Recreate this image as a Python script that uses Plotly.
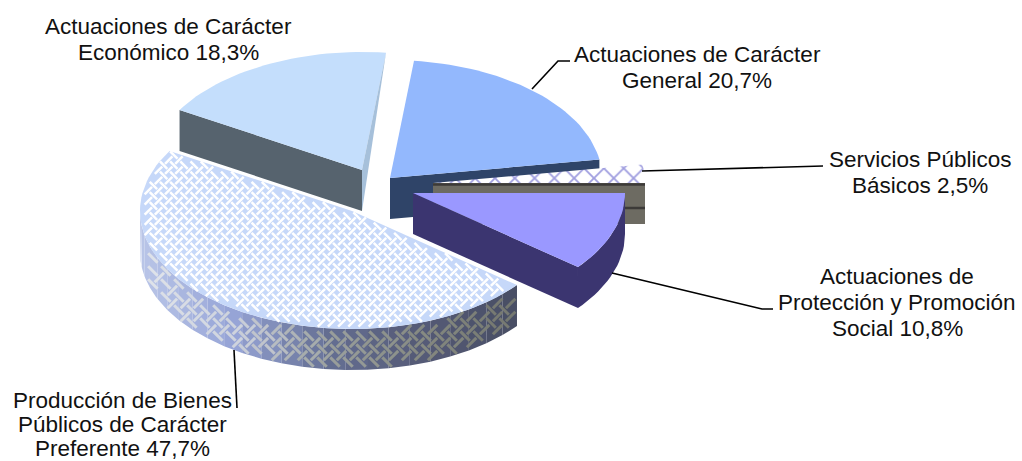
import math
import plotly.graph_objects as go

categories = ["Actuaciones de Carácter General", "Servicios Públicos Básicos",
              "Actuaciones de Protección y Promoción Social",
              "Producción de Bienes Públicos de Carácter Preferente",
              "Actuaciones de Carácter Económico"]
shares = [20.7, 2.5, 10.8, 47.7, 18.3]
label_lines = [["Actuaciones de Carácter", "General 20,7%"],
               ["Servicios Públicos", "Básicos 2,5%"],
               ["Actuaciones de", "Protección y Promoción", "Social 10,8%"],
               ["Producción de Bienes", "Públicos de Carácter", "Preferente 47,7%"],
               ["Actuaciones de Carácter", "Económico 18,3%"]]

A, B, H = 212, 118, 41
START = 83.5
apex = {0: (390, 178), 1: (433, 183), 2: (413, 193), 3: (352, 211), 4: (362, 170)}

spans = {}
a = START
for i, s in enumerate(shares):
    b = a - s * 3.6
    spans[i] = (a, b)
    a = b


def arc(i, a0, a1, dy=0, n=None):
    cx, cy = apex[i]
    n = n or max(2, int(abs(a1 - a0) / 2) + 2)
    pts = []
    for k in range(n):
        t = math.radians(a0 + (a1 - a0) * k / (n - 1))
        pts.append((cx + A * math.cos(t), cy - B * math.sin(t) + dy))
    return pts


fig = go.Figure()


def poly(pts, color, pattern=None):
    x = [p[0] for p in pts] + [pts[0][0]]
    y = [p[1] for p in pts] + [pts[0][1]]
    kw = dict(fillcolor=color)
    if pattern:
        kw["fillpattern"] = pattern
    fig.add_trace(go.Scatter(x=x, y=y, mode="lines", fill="toself", line=dict(width=0),
                             hoverinfo="skip", showlegend=False, **kw))


def line(pts, color="#000000", width=1.6):
    fig.add_trace(go.Scatter(x=[p[0] for p in pts], y=[p[1] for p in pts], mode="lines",
                             line=dict(color=color, width=width), hoverinfo="skip", showlegend=False))


def segments(segs, color, width):
    xs, ys = [], []
    for p, q in segs:
        xs += [p[0], q[0], None]
        ys += [p[1], q[1], None]
    fig.add_trace(go.Scatter(x=xs, y=ys, mode="lines", line=dict(color=color, width=width),
                             hoverinfo="skip", showlegend=False))


def weave(x0, x1, y0, y1, w):
    """Interlocking strokes of a woven texture laid at +/-45 degrees over a box."""
    s = w / math.sqrt(2)
    cx, cy = (x0 + x1) / 2, (y0 + y1) / 2
    R = int(max(x1 - x0, y1 - y0) / w) + 6

    def pt(u, v):
        return (cx + (u + v) * s, cy + (v - u) * s)
    for m in range(-R, R):
        for k in range(-R, R):
            u, v = 2 * m, 2 * k
            if (m + k) % 2 == 0:
                yield pt(u - 1.45, v), pt(u + 1.45, v)
            else:
                yield pt(u, v - 1.45), pt(u, v + 1.45)


def mix(stops, f):
    f = min(max(f, 0), 1) * (len(stops) - 1)
    j = min(int(f), len(stops) - 2)
    g = f - j
    return "#%02x%02x%02x" % tuple(round(u + (v - u) * g) for u, v in zip(stops[j], stops[j + 1]))


# Económico
i = 4
a0, a1 = spans[i]
ctr = apex[i]
left, top = arc(i, a0, a0, n=2)[0], arc(i, a1, a1, n=2)[0]
poly([ctr, left, (left[0], left[1] + H), (ctr[0], ctr[1] + H)], "#56636e")
poly([ctr] + arc(i, a0, a1), "#c4defc")
poly([top, (ctr[0], ctr[1] + H), ctr], "#a6c0da")

# General
i = 0
a0, a1 = spans[i]
ctr = apex[i]
e1 = arc(i, a1, a1, n=2)[0]
poly([ctr, e1, (e1[0], e1[1] + H), (ctr[0], ctr[1] + H)], "#2f4468")
poly([ctr] + arc(i, a0, a1), "#93b8fd")

# Servicios
i = 1
a0, a1 = spans[i]
ctr = apex[i]
e1 = arc(i, a1, a1, n=2)[0]
poly([ctr, e1, (e1[0], e1[1] + H), (ctr[0], ctr[1] + H)], "#6d6b62")
line([(ctr[0], ctr[1] + 1.5), (e1[0], e1[1] + 1.5)], "#3c3a38", 2.5)
line([(ctr[0], ctr[1] + 25), (e1[0], e1[1] + 25)], "#3c3a38", 2.5)
poly([ctr] + arc(i, a0, a1), "#ffffff",
     dict(shape="x", fgcolor="#3f3cc0", bgcolor="#ffffff", size=14, solidity=0.24))

# Producción: wall, shaded left to right
i = 3
a0, a1 = spans[i]
ctr = apex[i]
cx, cy = ctr
wall_bg = [(186, 198, 232), (150, 164, 214), (100, 110, 146), (85, 90, 118), (72, 78, 100)]
wall_fg = [(224, 228, 234), (204, 209, 220), (154, 159, 156), (132, 136, 128), (115, 118, 110)]
w0, w1 = a0, -180
xl, xr = cx - A, cx + A * math.cos(math.radians(a0))
N = 24
for k in range(N):
    t0 = w0 + (w1 - w0) * k / N
    t1 = w0 + (w1 - w0) * (k + 1) / N
    tp = arc(i, t0, t1, n=5)
    xm = (tp[0][0] + tp[-1][0]) / 2
    poly(tp + [(p[0], p[1] + H) for p in reversed(tp)], mix(wall_bg, (xm - xl) / (xr - xl)))
bins = [[] for _ in range(N)]
for p, q in weave(xl, xr, cy, cy + B + H, 4.6):
    ok = True
    for x, y in (p, q):
        if not (xl < x < xr):
            ok = False
            break
        c = max(-1, min(1, (x - cx) / A))
        yt = cy + B * math.sqrt(1 - c * c)
        if not (yt <= y <= yt + H):
            ok = False
            break
    if ok:
        bins[min(N - 1, int((p[0] - xl) / (xr - xl) * N))].append((p, q))
for k, segs in enumerate(bins):
    if segs:
        segments(segs, mix(wall_fg, (k + .5) / N), 3.0)

# Producción: top surface
poly([ctr] + arc(i, a0, a1), "#c6d8f9")
top_segs = []
for p, q in weave(cx - A, cx + A, cy - B, cy + B, 3.6):
    ok = True
    for x, y in (p, q):
        dx, dy = (x - cx) / A, (cy - y) / B
        t = math.degrees(math.atan2(dy, dx))
        while t > a0:
            t -= 360
        while t < a0 - 360:
            t += 360
        if dx * dx + dy * dy > 1 or t < a1:
            ok = False
            break
    if ok:
        top_segs.append((p, q))
segments(top_segs, "#ffffff", 2.5)

# Protección
i = 2
a0, a1 = spans[i]
ctr = apex[i]
e1 = arc(i, a1, a1, n=2)[0]
wall = arc(i, a0, a1)
poly(wall + [(p[0], p[1] + H) for p in reversed(wall)], "#3b3570")
poly([ctr, e1, (e1[0], e1[1] + H), (ctr[0], ctr[1] + H)], "#3b3570")
poly([ctr] + arc(i, a0, a1), "#9a98ff")

# Leader lines
line([(532, 89), (558, 61), (570, 61)])
line([(642, 171), (823, 166)])
line([(612, 273), (762, 309), (773, 309)])
line([(234, 350), (237, 408)])

label_x = [697, 920, 897, 122, 168]
label_y0 = [54, 159, 276, 400, 26]
line_step = [26, 26, 26, 24, 26]
annos = []
for x, y0, st, lines in zip(label_x, label_y0, line_step, label_lines):
    for n, t in enumerate(lines):
        annos.append(dict(x=x, y=y0 + n * st, xref="x", yref="y", text=t, showarrow=False,
                          xanchor="center", yanchor="middle",
                          font=dict(family="Liberation Sans", size=22.5, color="#111111")))

fig.update_layout(width=1022, height=461, margin=dict(l=0, r=0, t=0, b=0),
                  paper_bgcolor="white", plot_bgcolor="white", annotations=annos,
                  xaxis=dict(range=[0, 1022], visible=False, fixedrange=True),
                  yaxis=dict(range=[461, 0], visible=False, fixedrange=True))
fig.write_html("out.html", config=dict(displayModeBar=False),
               post_script="document.body.style.margin='0';")
